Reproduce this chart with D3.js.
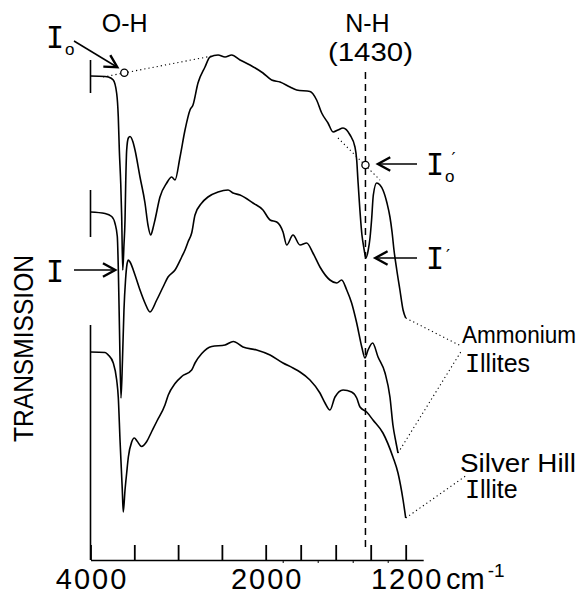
<!DOCTYPE html>
<html><head><meta charset="utf-8">
<script src="https://cdn.jsdelivr.net/npm/d3@7"></script>
<style>body{margin:0;background:#fff} svg{display:block}</style>
</head><body><svg id="c" width="582" height="595"></svg>
<script>
// ---- data (wavenumber cm-1, transmission in arbitrary units) ----
const xTicks = [4000, 3500, 3000, 2500, 2000, 1800, 1600, 1400, 1200];
const xTickLabels = {4000: "4000", 2000: "2000", 1200: "1200"};
const xMinorTicks = [1900, 1700, 1500, 1300];
const leftBrackets = [[100, 93.4], [74, 64.6], [47, 0]];
const nhBand = 1430;
const nhDashRange = [97.6, 2.6];

const ammoniumIlliteA = [[4000,96.8],[3834,96.7],[3797,96.6],[3740,96],[3701,93.3],[3683,88.7],[3671,82],[3655,75.4],[3644,68.7],[3632,58],[3618,63],[3606,68],[3598,75.4],[3587,82],[3568,84.4],[3549,84.7],[3515,83.6],[3492,82],[3435,76.6],[3378,71.4],[3344,67],[3313,65],[3286,66.4],[3264,68],[3207,72.6],[3130,75.4],[3073,76.6],[3035,76],[2978,80.6],[2921,86],[2864,90],[2830,91],[2773,95.4],[2693,98.6],[2636,100.6],[2544,101],[2464,100.6],[2388,101],[2293,100],[2179,99],[2031,97.4],[1966,96],[1918,95.6],[1861,94.6],[1823,94],[1747,93.7],[1709,92],[1680,89.4],[1644,87.4],[1615,85.6],[1587,86],[1558,86.4],[1518,85],[1490,82.6],[1480,80],[1473,76],[1450,65],[1437,62],[1428,60.4],[1414,62],[1404,64.4],[1395,68],[1385,73],[1366,75.4],[1347,75],[1330,74],[1307,71.4],[1290,68.6],[1278,65.6],[1267,62],[1251,58],[1233,54],[1215,50],[1200,48.4]];

const ammoniumIlliteB = [[4000,69.6],[3834,69.3],[3758,68.7],[3720,67.3],[3694,64.7],[3683,58.7],[3669,46],[3652,32.4],[3635,40],[3618,50],[3600,56],[3583,59.2],[3568,60],[3549,59.6],[3492,57],[3435,54],[3378,51.4],[3321,49.6],[3244,52],[3172,54.6],[3115,56.6],[3035,58],[2959,60.6],[2921,62],[2887,63.6],[2845,65.4],[2807,69],[2730,71.4],[2659,72.6],[2544,73.6],[2430,74],[2373,73.4],[2293,73],[2145,71.4],[2031,70],[1975,68],[1937,67.6],[1901,65.6],[1880,63],[1844,65],[1804,63],[1766,63.4],[1730,61.4],[1690,58.6],[1633,56],[1594,55.4],[1566,56],[1537,54],[1509,51.4],[1480,47.4],[1451,42.6],[1433,40.4],[1415,42],[1389,43.4],[1358,40.6],[1318,37.4],[1290,32.6],[1273,27],[1255,23.4],[1244,21.4]];

const silverHillIllite = [[4000,41.6],[3834,41.5],[3797,41],[3740,39.4],[3701,36],[3683,32.6],[3663,24],[3637,14],[3626,9.6],[3606,14],[3587,17.4],[3568,20.6],[3530,23.6],[3500,24.4],[3469,23.8],[3416,22.7],[3358,23.7],[3301,25.7],[3244,27.7],[3150,31],[3112,33],[3035,35.3],[2959,36.7],[2845,38],[2807,39.4],[2730,41.3],[2616,42.7],[2464,43],[2370,43.7],[2259,42.6],[2103,42],[1975,41],[1901,39.4],[1844,38.4],[1804,37.6],[1747,36],[1690,33.4],[1661,31.4],[1633,30],[1604,32.6],[1558,34],[1509,33.6],[1480,32.4],[1461,30.6],[1423,29.6],[1387,28],[1330,25.4],[1273,20.6],[1244,17.4],[1215,12],[1200,8.4]];

const baselineOH = [[3857, 96.6], [2613, 100.8]];
const pointI0 = [3614, 97.45];
const pointI = [3632, 58];
const baselineNH = [[1587, 84.4], [1347, 76]];
const pointI0p = [1430, 79];
const pointIp = [1428, 60.4];

// ---- drawing ----
const svg = d3.select("#c");
const x = d3.scaleLinear().domain([4000, 2000, 1100]).range([90.5, 265.7, 423.2]);
const y = d3.scaleLinear().domain([0, 104]).range([560, 40]);
const line = d3.line().x(d => x(d[0])).y(d => y(d[1])).curve(d3.curveMonotoneX);
const SANS = "Liberation Sans, Arial, sans-serif";
const MONO = "DejaVu Sans Mono, monospace";

// axis
const axis = d3.axisBottom(x).tickValues(xTicks).tickSizeInner(-15).tickSizeOuter(0)
  .tickPadding(8).tickFormat(d => xTickLabels[d] || "");
const gx = svg.append("g").attr("transform", `translate(0,${y(0)})`).call(axis);
gx.select(".domain").attr("stroke", "#000").attr("stroke-width", 1.6);
gx.selectAll(".tick line").attr("stroke", "#000").attr("stroke-width", 1.8);
gx.selectAll(".tick text").attr("font-family", SANS).attr("font-size", 29)
  .attr("fill", "#000").attr("letter-spacing", 2).attr("dx", 1);
svg.append("g").selectAll("line").data(xMinorTicks).join("line")
  .attr("x1", d => x(d)).attr("x2", d => x(d)).attr("y1", y(0)).attr("y2", y(0) + 3)
  .attr("stroke", "#000").attr("stroke-width", 1);
svg.append("text").attr("x", 446).attr("y", 588.5).attr("font-family", SANS).attr("font-size", 29)
  .text("cm").append("tspan").attr("font-size", 19).attr("dx", 3).attr("dy", -12).text("-1");

// left brackets
svg.append("g").selectAll("line").data(leftBrackets).join("line")
  .attr("x1", x(4000)).attr("x2", x(4000)).attr("y1", d => y(d[0])).attr("y2", d => y(d[1]))
  .attr("stroke", "#000").attr("stroke-width", 1.6);

// N-H dashed line
svg.append("line").attr("x1", x(nhBand)).attr("x2", x(nhBand))
  .attr("y1", y(nhDashRange[0])).attr("y2", y(nhDashRange[1]))
  .attr("stroke", "#000").attr("stroke-width", 1.5).attr("stroke-dasharray", "7,5");

// spectra
svg.append("g").selectAll("path").data([ammoniumIlliteA, ammoniumIlliteB, silverHillIllite]).join("path")
  .attr("d", line).attr("fill", "none").attr("stroke", "#000").attr("stroke-width", 1.6)
  .attr("stroke-linejoin", "round");

// baselines (dotted)
const dotted = (pts) => svg.append("path").attr("d", d3.line().x(d => x(d[0])).y(d => y(d[1]))(pts))
  .attr("fill", "none").attr("stroke", "#000").attr("stroke-width", 1.1).attr("stroke-dasharray", "1.2,3");
dotted(baselineOH);
dotted(baselineNH);
[pointI0, pointI0p].forEach(p => svg.append("circle").attr("cx", x(p[0])).attr("cy", y(p[1]))
  .attr("r", 3.6).attr("fill", "#fff").attr("stroke", "#000").attr("stroke-width", 1.3));

// leader lines to labels
const leader = (a, b) => svg.append("line").attr("x1", a[0]).attr("y1", a[1]).attr("x2", b[0]).attr("y2", b[1])
  .attr("stroke", "#000").attr("stroke-width", 1.1).attr("stroke-dasharray", "1.2,3");
const endA = ammoniumIlliteA[ammoniumIlliteA.length - 1];
const endB = ammoniumIlliteB[ammoniumIlliteB.length - 1];
const endC = silverHillIllite[silverHillIllite.length - 1];
leader([x(endA[0]), y(endA[1])], [461, 346]);
leader([x(endB[0]), y(endB[1])], [462, 350]);
leader([x(endC[0]), y(endC[1])], [467, 475]);

// arrows
function arrow(x1, y1, x2, y2) {
  svg.append("line").attr("x1", x1).attr("y1", y1).attr("x2", x2).attr("y2", y2)
    .attr("stroke", "#000").attr("stroke-width", 1.5);
  const a = Math.atan2(y2 - y1, x2 - x1), L = 14, w = 0.5;
  const p1 = [x2 - L * Math.cos(a - w), y2 - L * Math.sin(a - w)];
  const p2 = [x2 - L * Math.cos(a + w), y2 - L * Math.sin(a + w)];
  svg.append("path").attr("d", `M${p1}L${x2},${y2}L${p2}`).attr("fill", "none")
    .attr("stroke", "#000").attr("stroke-width", 2.4).attr("stroke-linejoin", "miter");
}
const cI0 = [x(pointI0[0]), y(pointI0[1])];
arrow(74, 41, cI0[0] - 7, cI0[1] - 5.5);
const cI = [x(pointI[0]), y(pointI[1])];
arrow(74, cI[1], cI[0] - 7.5, cI[1]);
const cI0p = [x(pointI0p[0]), y(pointI0p[1])];
arrow(417, cI0p[1] - 1, cI0p[0] + 12.5, cI0p[1] - 1);
const cIp = [x(pointIp[0]), y(pointIp[1])];
arrow(417, cIp[1], cIp[0] + 9.5, cIp[1]);

// I labels (one text element each, with sub/prime as tspans)
function labelI(xp, base, sub, prime) {
  const t = svg.append("text").attr("x", xp).attr("y", base).attr("font-family", MONO).attr("font-size", 30);
  t.append("tspan").text("I");
  if (sub) t.append("tspan").attr("font-family", SANS).attr("font-size", 17).attr("dx", 1).attr("dy", 7).text("o");
  if (prime) t.append("tspan").attr("font-family", "DejaVu Sans").attr("font-size", 18)
    .attr("dx", sub ? -3 : 2).attr("dy", sub ? -17 : -7).text("′");
}
labelI(46, 48, true, false);
labelI(46, cI[1] + 12, false, false);
labelI(426, cI0p[1] + 10, true, true);
labelI(426, cIp[1] + 11, false, true);

// band labels
const txt = (t, xp, yp, opts = {}) => {
  const e = svg.append("text").attr("x", xp).attr("y", yp).attr("font-family", SANS)
    .attr("font-size", opts.size || 25).attr("text-anchor", opts.anchor || "middle").text(t);
  if (opts.len) e.attr("textLength", opts.len).attr("lengthAdjust", "spacingAndGlyphs");
  return e;
};
txt("O-H", x(3610), 32);
txt("N-H", x(nhBand) + 2, 32);
txt("(1430)", x(nhBand) + 5, 61, {len: 85});

// series labels
txt("Ammonium", 462, 343, {anchor: "start", size: 23.5, len: 114});
const il = svg.append("text").attr("x", 465).attr("y", 372).attr("font-size", 25).attr("font-family", SANS);
il.append("tspan").attr("font-family", MONO).text("I");
il.append("tspan").text("llites");
txt("Silver Hill", 460, 472, {anchor: "start", size: 25, len: 116});
const il2 = svg.append("text").attr("x", 465).attr("y", 498).attr("font-size", 25).attr("font-family", SANS);
il2.append("tspan").attr("font-family", MONO).text("I");
il2.append("tspan").text("llite");

// y title
svg.append("text").attr("transform", "translate(33,348.5) rotate(-90)").attr("text-anchor", "middle")
  .attr("font-family", SANS).attr("font-size", 28).attr("textLength", 187)
  .attr("lengthAdjust", "spacingAndGlyphs").text("TRANSMISSION");
</script></body></html>
